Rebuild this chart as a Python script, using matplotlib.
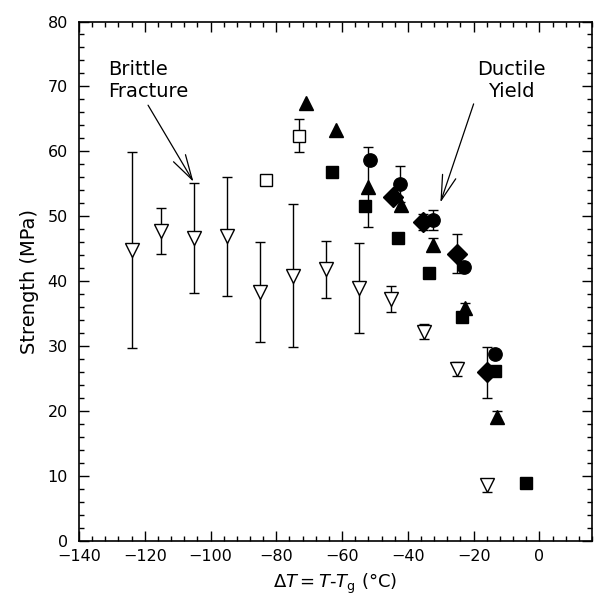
import matplotlib

matplotlib.use("Agg")
import matplotlib.pyplot as plt
import numpy as np
from matplotlib.ticker import MultipleLocator

nan = np.nan

# open down-triangles (brittle tests)
tri_open_x = [-124, -115, -105, -95, -85, -75, -65, -55, -45, -35, -25, -16]
tri_open_y = [44.8, 47.7, 46.6, 46.9, 38.3, 40.8, 41.8, 38.9, 37.2, 32.2, 26.4, 8.5]
tri_open_err = [15.1, 3.5, 8.5, 9.2, 7.7, 11.0, 4.4, 6.9, 2.0, 1.1, 1.1, 1.0]

sq_open_x = [-83, -73]
sq_open_y = [55.5, 62.4]
sq_open_err = [nan, 2.5]

tri_fill_x = [-71, -62, -52, -42, -32.5, -22.5, -13]
tri_fill_y = [67.4, 63.2, 54.5, 51.7, 45.6, 35.8, 19.1]
tri_fill_err = [nan, nan, 6.2, nan, 1.0, 0.8, 0.8]

sq_fill_x = [-63, -53, -43, -33.5, -23.5, -13.5, -4]
sq_fill_y = [56.8, 51.5, 46.6, 41.2, 34.5, 26.2, 8.9]

dia_x = [-44.5, -35.5, -25, -16]
dia_y = [53.0, 49.1, 44.2, 25.9]
dia_err = [nan, 1.2, 3.0, 4.0]

circ_x = [-51.5, -42.5, -32.5, -23, -13.4]
circ_y = [58.7, 55.0, 49.4, 42.2, 28.8]
circ_err = [nan, 2.8, 1.5, nan, nan]

plt.rcParams["font.family"] = "DejaVu Sans"
plt.rcParams["mathtext.fontset"] = "dejavusans"

fig = plt.figure(figsize=(5.98, 6.04), dpi=100)
ax = fig.add_axes([0.1321, 0.1051, 0.8579, 0.8593])

eb = dict(ecolor="black", elinewidth=1.0, capsize=3.6, capthick=1.0, linestyle="none",
          markeredgecolor="black", markeredgewidth=1.0)

ax.errorbar(tri_open_x, tri_open_y, yerr=tri_open_err, fmt="v", ms=10, mfc="white", **eb)
ax.errorbar(sq_open_x, sq_open_y, yerr=sq_open_err, fmt="s", ms=8.5, mfc="white", **eb)
ax.errorbar(sq_fill_x, sq_fill_y, fmt="s", ms=8.6, mfc="black", **eb)
ax.errorbar(tri_fill_x, tri_fill_y, yerr=tri_fill_err, fmt="^", ms=9.5, mfc="black", **eb)
ax.errorbar(dia_x, dia_y, yerr=dia_err, fmt="D", ms=9.8, mfc="black", **eb)
ax.errorbar(circ_x, circ_y, yerr=circ_err, fmt="o", ms=9.6, mfc="black", **eb)

ax.set_xlim(-140, 16)
ax.set_ylim(0, 80)
ax.xaxis.set_major_locator(MultipleLocator(20))
ax.xaxis.set_minor_locator(MultipleLocator(4))
ax.yaxis.set_major_locator(MultipleLocator(10))
ax.yaxis.set_minor_locator(MultipleLocator(2))
ax.tick_params(which="both", direction="in", top=True, right=True, width=1.0)
ax.tick_params(which="major", length=7, labelsize=11.5)
ax.tick_params(which="minor", length=3.6)
ax.tick_params(axis="x", pad=6)
ax.tick_params(axis="y", pad=8)
for sp in ax.spines.values():
    sp.set_linewidth(1.2)

ax.set_ylabel("Strength (MPa)", fontsize=14, labelpad=6)
ax.set_xlabel(r"$\Delta T = T$-$T_\mathrm{g}$ (°C)", fontsize=13, labelpad=6)

arrow = dict(arrowstyle="->, head_length=1.8, head_width=0.5", color="black", lw=0.9,
             shrinkA=0, shrinkB=0, mutation_scale=10)
ax.text(-131.2, 70.9, "Brittle\nFracture", fontsize=14, ha="left", va="center",
        linespacing=1.15)
ax.annotate("", xy=(-105.2, 55.3), xytext=(-119, 67.1), arrowprops=arrow)
ax.text(-8.5, 70.9, "Ductile\nYield", fontsize=14, ha="center", va="center",
        linespacing=1.15)
ax.annotate("", xy=(-30.1, 52.1), xytext=(-20, 67.3), arrowprops=arrow)

fig.savefig("out.png", dpi=100)
